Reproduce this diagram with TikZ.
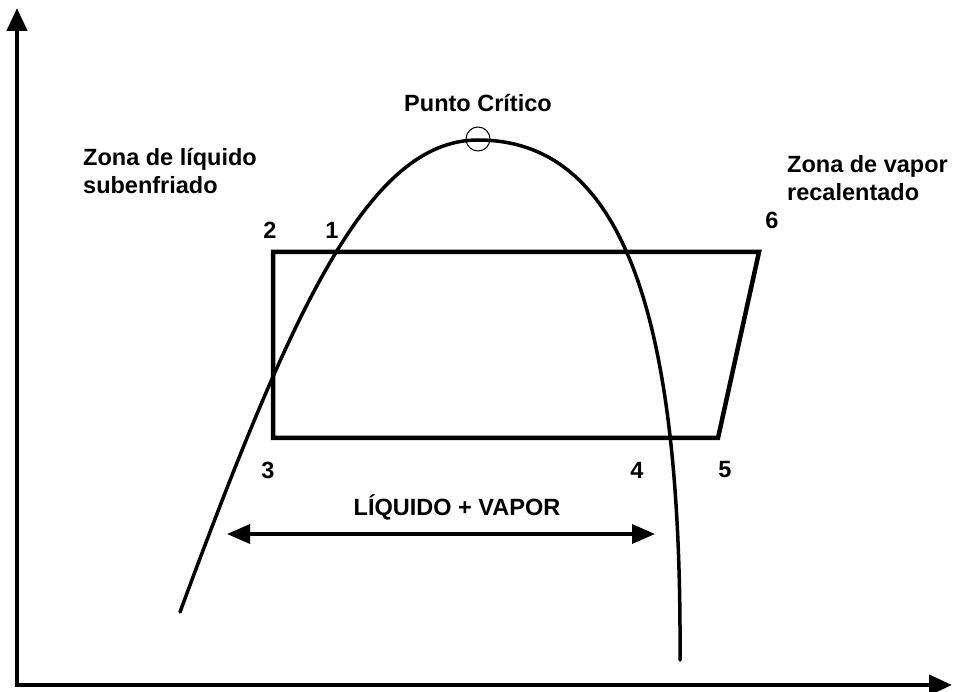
\documentclass[tikz,border=0pt]{standalone}
\usepackage{fontspec}
\setmainfont{Liberation Sans}
\usetikzlibrary{arrows.meta, positioning}
\tikzset{
  axis/.style={line width=4.5pt, line join=miter,
               {Triangle[length=23pt,width=20pt]}-{Triangle[length=23pt,width=20pt]}},
  dome/.style={line width=3.5pt, line cap=round},
  cyclebox/.style={line width=4.5pt, line join=miter},
  mixarrow/.style={line width=3.5pt,
               {Triangle[length=23pt,width=19pt]}-{Triangle[length=23pt,width=19pt]}},
  lbl/.style={font=\fontsize{23.5}{28}\selectfont\bfseries, inner sep=0pt},
  critic/.style={circle, draw=black, line width=1pt,
                 minimum size=24pt, inner sep=0pt},
}

\begin{document}
\begin{tikzpicture}[x=1pt, y=-1pt]
    \useasboundingbox (0,0) rectangle (956,692);
    %% axes
    \coordinate (ytop) at (17,8);
    \coordinate (O)    at (17,685);
    \coordinate (xend) at (952,685);
    \draw[axis] (ytop) -- (O) -- (xend);
    %% saturation dome
    \coordinate (dl) at (180,612);
    \coordinate (top) at (478,140);
    \coordinate (dr) at (680,660);
    \draw[dome] (dl) .. controls (291,312) and (368,140) .. (top)
                     .. controls (625,140) and (682,320) .. (dr);
    \node[critic] (pc) at (478,139) {};
    \node[lbl, anchor=base] (pclabel) at (478,112) {Punto Crítico};
    %% cycle
    \coordinate (p2) at (273,252);
    \coordinate (p6) at (759,252);
    \coordinate (p5) at (718,438);
    \coordinate (p3) at (273,438);
    \draw[cyclebox] (p2) -- (p6) -- (p5) -- (p3) -- cycle;
    %% state numbers
    \node[lbl] (n2) at (270,230) {2};
    \node[lbl] (n1) at (332,230) {1};
    \node[lbl] (n6) at (772,220) {6};
    \node[lbl] (n3) at (268,470) {3};
    \node[lbl] (n4) at (637,470) {4};
    \node[lbl] (n5) at (725,470) {5};
    %% zones
    \node[lbl, anchor=base west] (liq1) at (83,166) {Zona de líquido};
    \node[lbl, anchor=base west] (liq2) at (83,194) {subenfriado};
    \node[lbl, anchor=base west] (vap1) at (787,173) {Zona de vapor};
    \node[lbl, anchor=base west] (vap2) at (787,201) {recalentado};
    %% two-phase range
    \coordinate (la) at (227,534);
    \coordinate (ra) at (655,534);
    \draw[mixarrow] (la) -- (ra);
    \node[lbl, anchor=base] (mix) at (457,515) {LÍQUIDO + VAPOR};
\end{tikzpicture}
\end{document}
